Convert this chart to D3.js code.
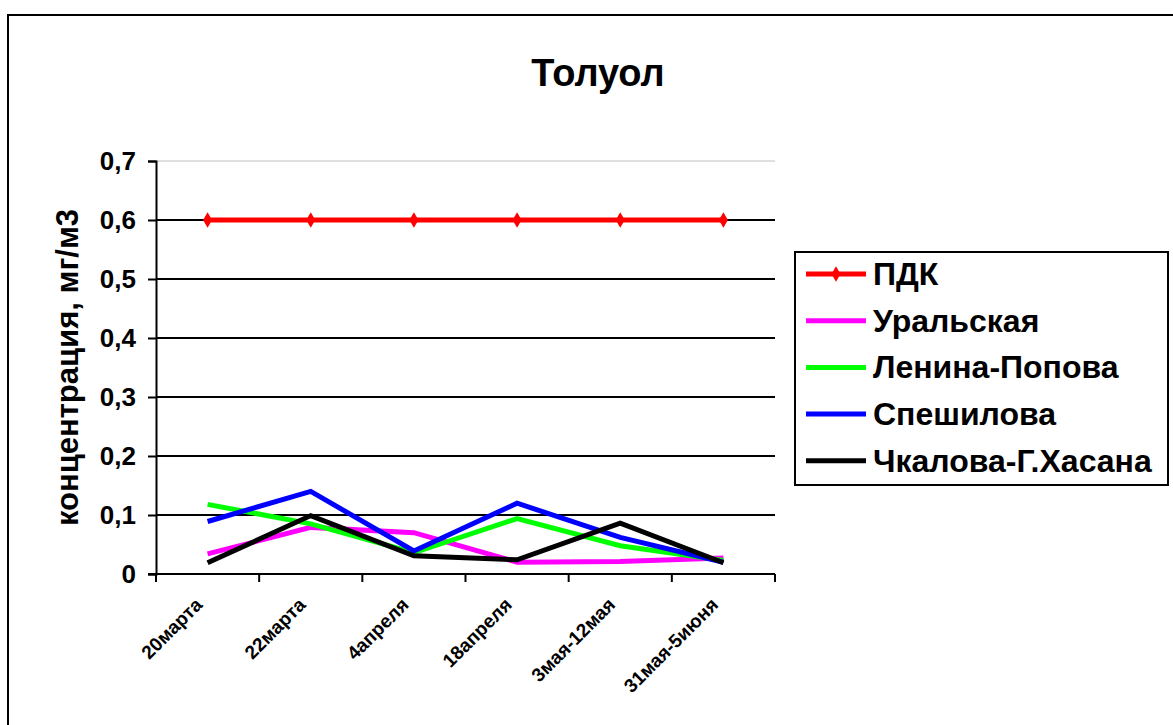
<!DOCTYPE html>
<html>
<head>
<meta charset="utf-8">
<script src="https://cdn.jsdelivr.net/npm/d3@7"></script>
<style>
  body { margin: 0; background: #fff; }
  svg { display: block; font-family: "Liberation Sans", Arial, sans-serif; font-weight: bold; }
</style>
</head>
<body>
<div id="chart"></div>
<script>
const categories = ['20марта', '22марта', '4апреля', '18апреля', '3мая-12мая', '31мая-5июня']
const pdk = [0.6, 0.6, 0.6, 0.6, 0.6, 0.6]
const uralskaya = [0.034, 0.079, 0.07, 0.02, 0.021, 0.027]
const leninaPopova = [0.118, 0.085, 0.036, 0.094, 0.048, 0.023]
const speshilova = [0.089, 0.14, 0.039, 0.12, 0.062, 0.02]
const chkalova = [0.019, 0.099, 0.031, 0.024, 0.086, 0.019]
const yTicks = [0, 0.1, 0.2, 0.3, 0.4, 0.5, 0.6, 0.7]

const series = [
    { name: 'ПДК', values: pdk, color: '#ff0000', marker: true },
    { name: 'Уральская', values: uralskaya, color: '#ff00ff' },
    { name: 'Ленина-Попова', values: leninaPopova, color: '#00ff00' },
    { name: 'Спешилова', values: speshilova, color: '#0000ff' },
    { name: 'Чкалова-Г.Хасана', values: chkalova, color: '#000000' }
]

const width = 1173
const height = 725
const plot = { left: 156, right: 775, top: 161, bottom: 574 }

const svg = d3.select('#chart').append('svg')
    .attr('width', width)
    .attr('height', height)

// outer frame
svg.append('rect')
    .attr('x', 8).attr('y', 15)
    .attr('width', 1180).attr('height', 730)
    .attr('fill', 'none')
    .attr('stroke', '#000')
    .attr('stroke-width', 2)

svg.append('text')
    .attr('x', 598).attr('y', 86)
    .attr('text-anchor', 'middle')
    .attr('font-size', 38)
    .text('Толуол')

const x = d3.scaleBand().domain(categories).range([plot.left, plot.right]).padding(0)
const y = d3.scaleLinear().domain([0, 0.7]).range([plot.bottom, plot.top])
const cx = (d) => x(d) + x.bandwidth() / 2

// gridlines
svg.append('g')
    .selectAll('line')
    .data(yTicks.filter((t) => t > 0))
    .enter().append('line')
    .attr('x1', plot.left).attr('x2', plot.right)
    .attr('y1', (d) => y(d)).attr('y2', (d) => y(d))
    .attr('stroke', (d) => d === 0.7 ? '#c0c0c0' : '#000')
    .attr('stroke-width', (d) => d === 0.7 ? 1 : 2)

const yAxis = svg.append('g')
    .attr('transform', 'translate(' + plot.left + ',0)')
    .call(d3.axisLeft(y).tickValues(yTicks).tickSize(8).tickPadding(12)
        .tickFormat((d) => d === 0 ? '0' : d.toFixed(1).replace('.', ',')))
yAxis.select('.domain').attr('stroke-width', 2)
yAxis.selectAll('.tick line').attr('stroke-width', 2)
yAxis.selectAll('.tick text')
    .attr('font-size', 26)
    .attr('font-family', '"Liberation Sans", Arial, sans-serif')
    .attr('font-weight', 'bold')
    .attr('fill', '#000')

const xAxis = svg.append('g')
    .attr('transform', 'translate(0,' + plot.bottom + ')')
xAxis.append('line')
    .attr('x1', plot.left - 8).attr('x2', plot.right)
    .attr('stroke', '#000').attr('stroke-width', 2)
xAxis.selectAll('.tick')
    .data(categories.map((c) => x(c)).concat([plot.right]))
    .enter().append('line')
    .attr('x1', (d) => d).attr('x2', (d) => d)
    .attr('y1', 0).attr('y2', 8)
    .attr('stroke', '#000').attr('stroke-width', 2)
xAxis.selectAll('text')
    .data(categories)
    .enter().append('text')
    .attr('transform', (d) => 'translate(' + (cx(d) - 4) + ',' + 32 + ') rotate(-45)')
    .attr('text-anchor', 'end')
    .attr('font-size', 19)
    .text((d) => d)

svg.append('text')
    .attr('transform', 'translate(78,' + ((plot.top + plot.bottom) / 2) + ') rotate(-90)')
    .attr('text-anchor', 'middle')
    .attr('font-size', 31)
    .text('концентрация, мг/м3')

const line = d3.line()
    .x((d, i) => cx(categories[i]))
    .y((d) => y(d))

svg.append('g')
    .selectAll('path')
    .data(series)
    .enter().append('path')
    .attr('d', (s) => line(s.values))
    .attr('fill', 'none')
    .attr('stroke', (s) => s.color)
    .attr('stroke-width', 5)
    .attr('stroke-linejoin', 'miter')

const diamond = d3.symbol().type(d3.symbolDiamond).size(70)
svg.append('g')
    .selectAll('path')
    .data(pdk)
    .enter().append('path')
    .attr('d', diamond)
    .attr('transform', (d, i) => 'translate(' + cx(categories[i]) + ',' + y(d) + ')')
    .attr('fill', '#ff0000')

// legend
const legend = svg.append('g')
legend.append('rect')
    .attr('x', 795).attr('y', 252)
    .attr('width', 373).attr('height', 233)
    .attr('fill', '#fff')
    .attr('stroke', '#000')
    .attr('stroke-width', 2)

const item = legend.selectAll('.item')
    .data(series)
    .enter().append('g')
    .attr('transform', (d, i) => 'translate(0,' + (274 + i * 46.7) + ')')
item.append('line')
    .attr('x1', 806).attr('x2', 866)
    .attr('stroke', (d) => d.color)
    .attr('stroke-width', 5)
item.filter((d) => d.marker).append('path')
    .attr('d', diamond)
    .attr('transform', 'translate(836,0)')
    .attr('fill', '#ff0000')
item.append('text')
    .attr('x', 873).attr('y', 11)
    .attr('font-size', 32)
    .text((d) => d.name)
</script>
</body>
</html>
